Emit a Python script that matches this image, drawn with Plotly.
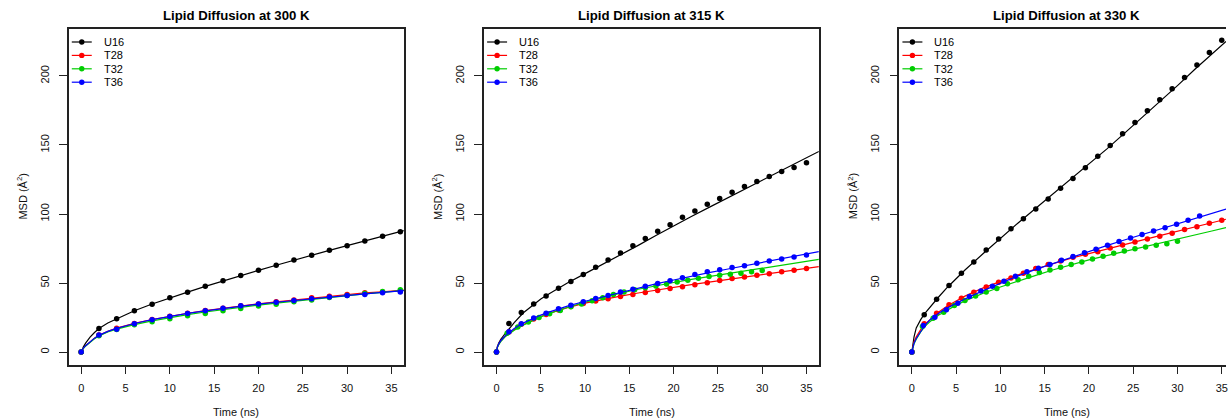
import plotly.graph_objects as go

# ---------------------------------------------------------------- data
SERIES = ["U16", "T28", "T32", "T36"]
COLORS = ["#000000", "#FF0000", "#00CD00", "#0000FF"]
TEMPS = ["300", "315", "330"]
X_TICKS = [0, 5, 10, 15, 20, 25, 30, 35]
Y_TICKS = [0, 50, 100, 150, 200]

# 300 K: all systems sampled every 2 ns
TIME_300 = [0, 2, 4, 6, 8, 10, 12, 14, 16, 18, 20, 22, 24, 26, 28, 30, 32, 34, 36]
U16_300 = [0, 17.1, 24.1, 29.9, 34.7, 39.3, 43.4, 47.7, 51.6, 55.4, 59.3, 62.9, 66.7, 70.1, 73.7, 77.1, 80.5, 83.9, 87.2]
T28_300 = [0, 12.3, 17.3, 20.7, 23.6, 26.0, 28.2, 30.1, 31.8, 33.5, 34.9, 36.4, 37.8, 39.3, 40.5, 41.7, 42.9, 43.6, 44.3]
T32_300 = [0, 11.8, 16.4, 19.8, 21.9, 24.1, 26.3, 28.0, 29.9, 31.6, 33.3, 34.7, 36.4, 37.8, 39.5, 41.0, 42.4, 43.9, 45.1]
T36_300 = [0, 12.3, 16.6, 20.5, 23.4, 25.8, 28.0, 29.9, 31.8, 33.5, 34.9, 36.1, 37.3, 38.6, 39.8, 41.0, 41.7, 42.9, 43.6]

# 315 K and 330 K: sampling interval differs between systems
TIME_14 = [0, 1.4, 2.8, 4.2, 5.6, 7.0, 8.4, 9.8, 11.2, 12.6, 14.0, 15.4, 16.8, 18.2, 19.6, 21.0,
           22.4, 23.8, 25.2, 26.6, 28.0, 29.4, 30.8, 32.2, 33.6, 35.0]
TIME_12 = [0, 1.2, 2.4, 3.6, 4.8, 6.0, 7.2, 8.4, 9.6, 10.8, 12.0, 13.2, 14.4, 15.6, 16.8, 18.0,
           19.2, 20.4, 21.6, 22.8, 24.0, 25.2, 26.4, 27.6, 28.8, 30.0]
TIME_13 = [0, 1.3, 2.6, 3.9, 5.2, 6.5, 7.8, 9.1, 10.4, 11.7, 13.0, 14.3, 15.6, 16.9, 18.2, 19.5,
           20.8, 22.1, 23.4, 24.7, 26.0, 27.3, 28.6, 29.9, 31.2, 32.5]

U16_315 = [0, 20.7, 28.7, 34.9, 40.7, 46.3, 51.1, 56.1, 61.4, 66.7, 71.8, 77.1, 82.2, 87.5, 92.3, 97.6,
           102.2, 107.0, 111.3, 115.7, 120.0, 123.6, 127.2, 130.8, 133.7, 137.1]
T28_315 = [0, 14.5, 20.2, 23.9, 27.2, 30.4, 33.0, 35.2, 37.0, 38.7, 40.2, 41.7, 43.1, 44.6, 46.0, 47.4,
           48.7, 50.3, 51.8, 53.2, 54.4, 55.6, 56.8, 58.1, 59.3, 60.5]
T32_315 = [0, 13.7, 18.1, 21.7, 25.1, 27.8, 30.1, 32.8, 34.9, 37.1, 39.3, 41.7, 43.5, 45.2, 46.6, 47.8,
           49.3, 50.7, 52.0, 53.5, 54.7, 55.7, 56.4, 57.1, 58.1, 59.0]
T36_315 = [0, 14.7, 20.5, 24.6, 28.2, 31.3, 34.0, 36.4, 38.8, 41.0, 43.6, 45.5, 47.7, 49.6, 51.6, 53.9,
           56.1, 58.1, 59.7, 61.2, 62.6, 64.3, 66.0, 67.5, 68.9, 70.4]

U16_330 = [0, 27.0, 38.3, 48.2, 57.1, 65.3, 74.0, 81.9, 89.4, 96.6, 103.6, 110.8, 118.6, 125.8, 133.5,
           141.9, 149.6, 158.1, 166.3, 174.7, 182.7, 190.8, 198.8, 208.0, 216.9, 225.8]
T28_330 = [0, 20.5, 28.2, 34.2, 39.0, 43.4, 47.2, 50.6, 53.7, 57.1, 60.5, 63.4, 66.0, 68.7, 70.8, 72.7,
           75.4, 77.6, 79.8, 81.9, 83.9, 86.0, 88.7, 90.8, 93.3, 95.4]
T32_330 = [0, 18.5, 24.5, 28.9, 33.7, 37.3, 40.7, 43.5, 46.0, 49.4, 52.3, 54.9, 57.6, 59.5, 61.4, 63.4,
           65.3, 67.5, 69.4, 71.6, 73.2, 74.9, 76.1, 77.3, 78.5, 80.2]
T36_330 = [0, 19.3, 25.3, 30.6, 35.4, 40.2, 44.3, 47.7, 51.3, 54.9, 58.1, 60.7, 63.4, 66.5, 69.2, 72.0,
           74.5, 77.4, 80.0, 82.6, 85.1, 87.7, 90.1, 92.5, 95.4, 98.6]

# fitted MSD curves
FIT_T_300 = [0, 0.1, 0.25, 0.5, 1, 1.5, 2, 3, 4, 6, 8, 10, 12, 14, 16, 18, 20, 22, 24, 26, 28, 30, 32, 34, 36.4]
FIT_U16_300 = [0, 1.8, 3.8, 6.5, 10.8, 14.2, 17.1, 21.0, 24.1, 29.9, 34.8, 39.3, 43.4, 47.6, 51.6, 55.4,
               59.2, 62.9, 66.6, 70.1, 73.7, 77.1, 80.5, 83.9, 88.0]
FIT_T28_300 = [0, 1.5, 2.8, 4.6, 7.7, 10.1, 12.1, 15.0, 17.3, 20.8, 23.6, 26.0, 28.1, 30.0, 31.8, 33.4,
               34.9, 36.4, 37.8, 39.2, 40.5, 41.7, 42.9, 43.7, 44.8]
FIT_T32_300 = [0, 1.4, 2.7, 4.4, 7.4, 9.7, 11.7, 14.5, 16.6, 19.9, 22.6, 25.0, 27.1, 29.0, 30.8, 32.5,
               34.0, 35.5, 36.9, 38.3, 39.6, 40.9, 42.1, 43.3, 44.7]
FIT_T36_300 = [0, 1.5, 2.8, 4.6, 7.7, 10.1, 12.1, 15.0, 17.2, 20.7, 23.5, 25.9, 28.0, 29.9, 31.6, 33.2,
               34.7, 36.1, 37.4, 38.7, 39.9, 41.1, 42.2, 43.3, 44.5]

FIT_T_315 = [0, 0.1, 0.25, 0.5, 1, 1.5, 2, 3, 4, 5, 6, 8, 10, 12, 14, 16, 18, 20, 22, 24, 26, 28, 30, 32, 34, 36.4]
FIT_U16_315 = [0, 4.0, 6.5, 9.5, 13.5, 17.7, 21.3, 28.3, 33.2, 38.5, 42.5, 50.0, 56.8, 63.5, 70.4, 77.3,
               84.4, 91.5, 98.2, 104.8, 111.3, 117.9, 124.6, 131.2, 137.8, 145.3]
FIT_T28_315 = [0, 3.5, 5.7, 8.2, 11.5, 13.9, 16.1, 19.8, 23.0, 25.8, 28.2, 32.2, 35.4, 38.1, 40.5, 42.8,
               44.9, 46.9, 48.8, 50.6, 52.4, 54.2, 56.0, 57.8, 59.6, 61.9]
FIT_T32_315 = [0, 3.4, 5.4, 7.8, 11.2, 13.7, 15.8, 19.4, 22.6, 25.4, 27.9, 32.3, 36.1, 39.5, 42.6, 45.5,
               48.1, 50.4, 52.6, 54.7, 56.8, 58.8, 60.8, 62.8, 64.8, 67.2]
FIT_T36_315 = [0, 3.7, 5.8, 8.4, 11.9, 14.6, 17.0, 21.0, 24.1, 26.8, 29.1, 33.3, 36.8, 40.0, 43.3, 46.5,
               49.4, 52.2, 55.0, 57.6, 60.0, 62.4, 64.9, 67.3, 69.7, 72.8]

FIT_T_330 = [0, 0.1, 0.25, 0.5, 1, 1.5, 2, 3, 4, 5, 6, 8, 10, 12, 14, 16, 18, 20, 22, 24, 26, 28, 30, 32, 34, 35.48]
FIT_U16_330 = [0, 6.0, 11.0, 17.5, 23.5, 28.3, 32.3, 39.7, 46.8, 53.3, 59.4, 71.0, 82.6, 93.5, 104.2, 114.8,
               125.4, 136.0, 147.0, 158.4, 169.8, 181.4, 193.0, 205.0, 216.4, 225.0]
FIT_T28_330 = [0, 4.5, 7.5, 11.0, 16.3, 20.3, 23.3, 28.8, 33.4, 37.2, 40.5, 46.3, 51.3, 55.9, 60.2, 64.2,
               68.0, 71.3, 74.7, 78.0, 81.1, 84.3, 87.4, 90.5, 93.6, 96.2]
FIT_T32_330 = [0, 3.6, 6.0, 9.3, 14.6, 18.8, 21.8, 26.6, 30.5, 34.0, 37.1, 42.4, 47.1, 51.5, 55.6, 59.6,
               63.3, 66.8, 69.8, 72.9, 75.9, 78.9, 81.9, 84.9, 87.9, 90.1]
FIT_T36_330 = [0, 3.8, 6.4, 9.8, 15.2, 19.6, 23.0, 28.0, 32.0, 35.4, 38.5, 44.3, 50.0, 55.2, 59.9, 64.3,
               68.7, 72.9, 77.1, 81.2, 85.2, 89.1, 93.0, 96.9, 100.8, 103.6]

PANELS = [
    {"points": [(TIME_300, U16_300), (TIME_300, T28_300), (TIME_300, T32_300), (TIME_300, T36_300)],
     "fits": [(FIT_T_300, FIT_U16_300), (FIT_T_300, FIT_T28_300), (FIT_T_300, FIT_T32_300), (FIT_T_300, FIT_T36_300)]},
    {"points": [(TIME_14, U16_315), (TIME_14, T28_315), (TIME_12, T32_315), (TIME_14, T36_315)],
     "fits": [(FIT_T_315, FIT_U16_315), (FIT_T_315, FIT_T28_315), (FIT_T_315, FIT_T32_315), (FIT_T_315, FIT_T36_315)]},
    {"points": [(TIME_14, U16_330), (TIME_14, T28_330), (TIME_12, T32_330), (TIME_13, T36_330)],
     "fits": [(FIT_T_330, FIT_U16_330), (FIT_T_330, FIT_T28_330), (FIT_T_330, FIT_T32_330), (FIT_T_330, FIT_T36_330)]},
]

# ---------------------------------------------------------------- layout geometry (pixels)
W, H = 1228, 418
BOX_LEFT = [68.9, 484.9, 900.9]
BOX_RIGHT = [404.5, 820.2, 1228.0]
BOX_WIDTH = 335.5
BOX_TOP, BOX_BOTTOM = 29.0, 364.5
X_RANGES = [[-1.4, 36.4], [-1.4, 36.4], [-1.4, 35.48]]
Y_RANGE = [-9, 234]
FONT = "Liberation Sans, Arial, Helvetica, sans-serif"
AXIS_COLOR = "#222222"


def px(x):
    return x / W


def py(y):
    return 1 - y / H


fig = go.Figure()

for p, panel in enumerate(PANELS):
    sfx = "" if p == 0 else str(p + 1)
    for (pt, pv), (ft, fv), name, color in zip(panel["points"], panel["fits"], SERIES, COLORS):
        fig.add_trace(go.Scatter(
            x=pt, y=pv, mode="markers", name=name, showlegend=False,
            marker=dict(color=color, size=5.5, line=dict(width=0)),
            xaxis="x" + sfx, yaxis="y" + sfx, cliponaxis=True))
        fig.add_trace(go.Scatter(
            x=ft, y=fv, mode="lines", name=name, showlegend=False,
            line=dict(color=color, width=1.2),
            xaxis="x" + sfx, yaxis="y" + sfx))

layout = dict(
    width=W, height=H,
    margin=dict(l=0, r=0, t=0, b=0),
    paper_bgcolor="white", plot_bgcolor="white",
    showlegend=False,
    font=dict(family=FONT, size=11, color="black"),
)

annotations = []
shapes = []
for p in range(3):
    sfx = "" if p == 0 else str(p + 1)
    L, R = BOX_LEFT[p], BOX_RIGHT[p]
    layout["xaxis" + sfx] = dict(
        domain=[px(L), px(R)], range=X_RANGES[p], anchor="y" + sfx,
        tickmode="array", tickvals=X_TICKS, ticks="outside", ticklen=8, tickwidth=1,
        tickcolor=AXIS_COLOR, showline=True, linecolor=AXIS_COLOR, linewidth=1.5,
        mirror=True, showgrid=False, zeroline=False, ticklabeloverflow="allow",
        tickfont=dict(family=FONT, size=11, color="#111111"), ticklabelstandoff=5)
    layout["yaxis" + sfx] = dict(
        domain=[py(BOX_BOTTOM), py(BOX_TOP)], range=Y_RANGE, anchor="x" + sfx,
        tickmode="array", tickvals=Y_TICKS, ticks="outside", ticklen=8, tickwidth=1,
        tickcolor=AXIS_COLOR, showline=True, linecolor=AXIS_COLOR, linewidth=1.5,
        mirror=(p < 2), showgrid=False, zeroline=False, tickangle=-90,
        tickfont=dict(family=FONT, size=11, color="#111111"), ticklabelstandoff=6)

    cx = L + BOX_WIDTH / 2
    # panel title
    annotations.append(dict(
        text="<b>Lipid Diffusion at %s K</b>" % TEMPS[p], x=px(cx), y=py(15.5),
        xref="paper", yref="paper", xanchor="center", yanchor="middle", showarrow=False,
        font=dict(family=FONT, size=13.2, color="black")))
    # axis titles
    annotations.append(dict(
        text="Time (ns)", x=px(cx), y=py(412), xref="paper", yref="paper",
        xanchor="center", yanchor="middle", showarrow=False,
        font=dict(family=FONT, size=11, color="#111111")))
    annotations.append(dict(
        text="MSD (Å<sup>2</sup>)", x=px(L - 47), y=py((BOX_TOP + BOX_BOTTOM) / 2),
        xref="paper", yref="paper", xanchor="center", yanchor="middle", showarrow=False,
        textangle=-90, font=dict(family=FONT, size=11, color="#111111")))

    # legend inside the top-left corner
    for j, (name, color) in enumerate(zip(SERIES, COLORS)):
        yc = 42.0 + j * 13.4
        shapes.append(dict(type="line", xref="paper", yref="paper",
                           x0=px(L + 3), x1=px(L + 23), y0=py(yc), y1=py(yc),
                           line=dict(color=color, width=1.2)))
        r = 2.7
        shapes.append(dict(type="circle", xref="paper", yref="paper",
                           x0=px(L + 13 - r), x1=px(L + 13 + r), y0=py(yc + r), y1=py(yc - r),
                           fillcolor=color, line=dict(color=color, width=0)))
        annotations.append(dict(
            text=name, x=px(L + 33), y=py(yc), xref="paper", yref="paper",
            xanchor="left", yanchor="middle", showarrow=False,
            font=dict(family=FONT, size=11, color="black")))

layout["annotations"] = annotations
layout["shapes"] = shapes
fig.update_layout(**layout)

fig.write_html("out.html")
